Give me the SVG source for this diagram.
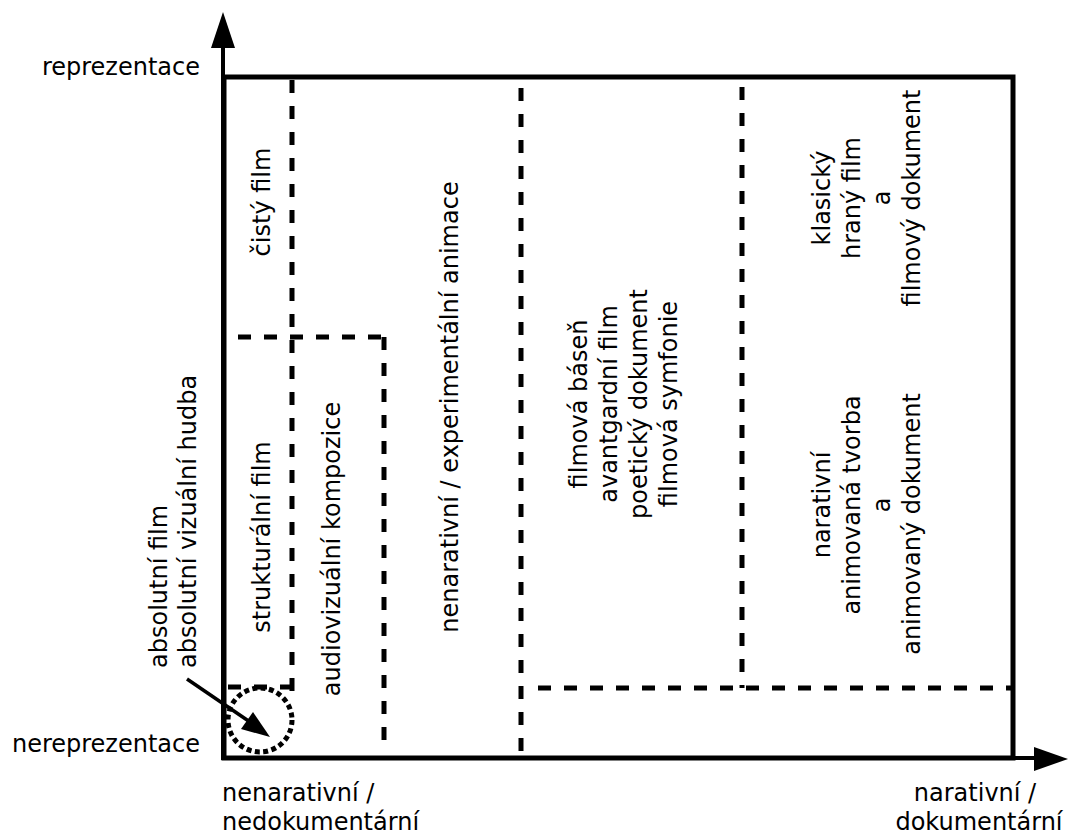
<svg xmlns="http://www.w3.org/2000/svg" width="1081" height="836" viewBox="0 0 1081 836">
  <style>
    text { font-family: "DejaVu Sans", Verdana, sans-serif; font-size: 24px; fill: #000; }
    .axis { stroke: #000; stroke-width: 4; fill: none; }
    .box { stroke: #000; stroke-width: 5; fill: none; }
    .dash { stroke: #000; stroke-width: 5; stroke-dasharray: 13 13; fill: none; }
    .dot { stroke: #000; stroke-width: 5; stroke-dasharray: 5 3.4; fill: none; }
  </style>
  <rect width="1081" height="836" fill="#fff"/>
  <g id="axes">
    <line class="axis" x1="223" y1="760" x2="223" y2="44"/>
    <polygon points="223,12 211,48 235,48" fill="#000"/>
    <line class="axis" x1="221" y1="758" x2="1036" y2="758"/>
    <polygon points="1068,759 1034,747 1034,771" fill="#000"/>
    <rect id="frame" class="box" x="224" y="77" width="789" height="681"/>
  </g>
  <g id="connectors">
    <line class="dash" x1="292" y1="80" x2="292" y2="692"/>
    <line class="dash" x1="238" y1="337" x2="386" y2="337"/>
    <line class="dash" x1="384" y1="337" x2="384" y2="752"/>
    <line class="dash" x1="521" y1="88" x2="521" y2="752"/>
    <line class="dash" x1="538" y1="688" x2="1011" y2="688"/>
    <line class="dash" x1="742" y1="87" x2="742" y2="688"/>
    <line class="dash" x1="228" y1="687" x2="292" y2="687"/>
    <circle class="dot" cx="260" cy="720" r="32"/>
    <line x1="187" y1="679" x2="250" y2="722" stroke="#000" stroke-width="3.5"/>
    <polygon points="270,737 241,729 253,712" fill="#000"/>
  </g>
  <g id="labels-axes">
    <text x="200" y="75" text-anchor="end">reprezentace</text>
    <text x="200" y="752" text-anchor="end">nereprezentace</text>
    <text x="222" y="801">nenarativní /</text>
    <text x="222" y="830">nedokumentární</text>
    <text x="975" y="801" text-anchor="middle">narativní /</text>
    <text x="979" y="830" text-anchor="middle">dokumentární</text>
  </g>
  <g id="node-absolutni">
    <text transform="translate(0,668) rotate(-90)"><tspan x="0" y="167">absolutní film</tspan><tspan x="0" y="196">absolutní vizuální hudba</tspan></text>
  </g>
  <g id="node-cisty">
    <text transform="translate(270,202) rotate(-90)" text-anchor="middle">čistý film</text>
  </g>
  <g id="node-strukturalni">
    <text transform="translate(270,537) rotate(-90)" text-anchor="middle">strukturální film</text>
  </g>
  <g id="node-audiovizualni">
    <text transform="translate(340,549) rotate(-90)" text-anchor="middle">audiovizuální kompozice</text>
  </g>
  <g id="node-experimentalni">
    <text transform="translate(458,407) rotate(-90)" text-anchor="middle">nenarativní / experimentální animace</text>
  </g>
  <g id="node-basen">
    <text transform="translate(0,404) rotate(-90)" text-anchor="middle"><tspan x="0" y="587">filmová báseň</tspan><tspan x="0" y="617">avantgardní film</tspan><tspan x="0" y="647">poetický dokument</tspan><tspan x="0" y="677">filmová symfonie</tspan></text>
  </g>
  <g id="node-klasicky">
    <text transform="translate(0,198) rotate(-90)" text-anchor="middle"><tspan x="0" y="830">klasický</tspan><tspan x="0" y="860">hraný film</tspan><tspan x="0" y="890">a</tspan><tspan x="0" y="920">filmový dokument</tspan></text>
  </g>
  <g id="node-narativni">
    <text transform="rotate(-90)" text-anchor="middle"><tspan x="-505" y="830">narativní</tspan><tspan x="-505" y="860">animovaná tvorba</tspan><tspan x="-505" y="890">a</tspan><tspan x="-524" y="920">animovaný dokument</tspan></text>
  </g>
</svg>
